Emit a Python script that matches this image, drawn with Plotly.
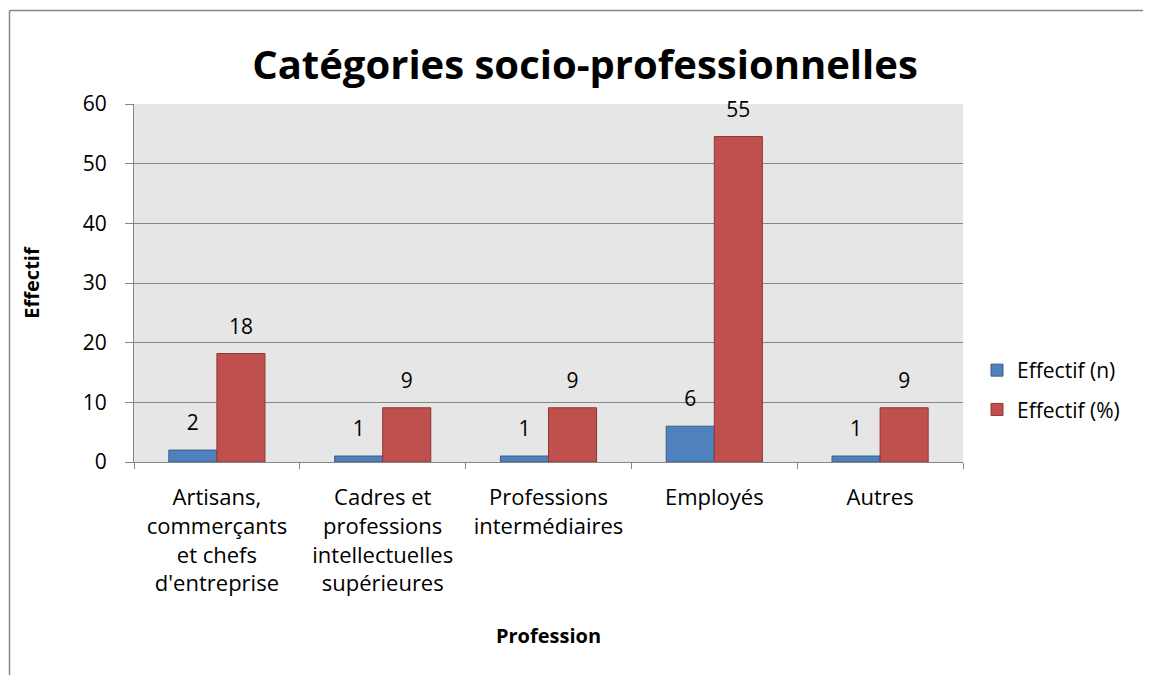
import plotly.graph_objects as go

categories = [
    "Artisans,<br>commerçants<br>et chefs<br>d'entreprise",
    "Cadres et<br>professions<br>intellectuelles<br>supérieures",
    "Professions<br>intermédiaires",
    "Employés",
    "Autres",
]
effectif_n = [2, 1, 1, 6, 1]
effectif_pct = [18.18, 9.09, 9.09, 54.55, 9.09]
labels_n = ["2", "1", "1", "6", "1"]
labels_pct = ["18", "9", "9", "55", "9"]

W, H = 1151, 675
FONT = "Open Sans, Liberation Sans, sans-serif"
OFF = 8  # page body margin

fig = go.Figure()
fig.add_trace(go.Bar(
    x=categories, y=effectif_n, name="Effectif (n)", legendgroup="n",
    marker=dict(color="#4f81bd", line=dict(color="#385d8a", width=1)),
))
fig.add_trace(go.Bar(
    x=categories, y=effectif_pct, name="Effectif (%)", legendgroup="pct",
    marker=dict(color="#c0504d", line=dict(color="#8c3836", width=1)),
))
# data labels, grouped like the bars, lifted above the bar ends
for vals, labs in [(effectif_n, labels_n), (effectif_pct, labels_pct)]:
    fig.add_trace(go.Scatter(
        x=categories, y=vals, text=labs, mode="markers+text",
        textposition="top center", cliponaxis=False,
        marker=dict(size=22, color="rgba(0,0,0,0)"),
        textfont=dict(size=21, color="black", family=FONT),
        showlegend=False, hoverinfo="skip",
    ))

x0, x1 = 134 - OFF, 963 - OFF
yt, yb = 104 - OFF, 462 - OFF

fig.update_layout(
    width=W, height=H,
    margin=dict(l=0, r=0, t=0, b=0),
    paper_bgcolor="white",
    plot_bgcolor="#e6e6e6",
    barmode="group",
    bargap=0.42,
    bargroupgap=0,
    scattermode="group",
    scattergap=0.42,
    font=dict(family=FONT, color="black"),
    title=dict(text="<b>Catégories socio-professionnelles</b>",
               x=(585 - OFF) / W, xanchor="center", y=1 - (65 - OFF) / H, yanchor="middle",
               font=dict(size=40, family=FONT, color="black")),
    legend=dict(x=(977 - OFF) / W, y=1 - (350 - OFF) / H, xanchor="left", yanchor="top",
                font=dict(size=21, family=FONT), bgcolor="rgba(0,0,0,0)",
                tracegroupgap=9, itemwidth=30),
    xaxis=dict(
        domain=[x0 / W, x1 / W],
        showline=True, linecolor="#868686", linewidth=1,
        ticks="outside", ticklen=6, tickcolor="#868686",
        tickson="boundaries",
        ticklabelstandoff=16,
        tickfont=dict(size=22, family=FONT),
        automargin=False,
        title=dict(text="<b>Profession</b>", font=dict(size=20, family=FONT), standoff=32),
    ),
    yaxis=dict(
        domain=[1 - yb / H, 1 - yt / H],
        range=[0, 60], dtick=10,
        showgrid=True, gridcolor="#868686", gridwidth=1,
        showline=True, linecolor="#868686", linewidth=1,
        ticks="outside", ticklen=8, tickcolor="#868686",
        ticklabelstandoff=14,
        tickfont=dict(size=21, family=FONT),
        automargin=False, zeroline=False,
        title=dict(text="<b>Effectif</b>", font=dict(size=20, family=FONT), standoff=37),
    ),
    shapes=[
        dict(type="line", xref="paper", yref="paper", x0=(9.5 - OFF) / W, x1=1,
             y0=1 - (10.5 - OFF) / H, y1=1 - (10.5 - OFF) / H,
             line=dict(color="#868686", width=1.5)),
        dict(type="line", xref="paper", yref="paper", x0=(9.5 - OFF) / W, x1=(9.5 - OFF) / W,
             y0=0, y1=1 - (10.5 - OFF) / H,
             line=dict(color="#868686", width=1.5)),
    ],
)

fig.write_html("out.html")
